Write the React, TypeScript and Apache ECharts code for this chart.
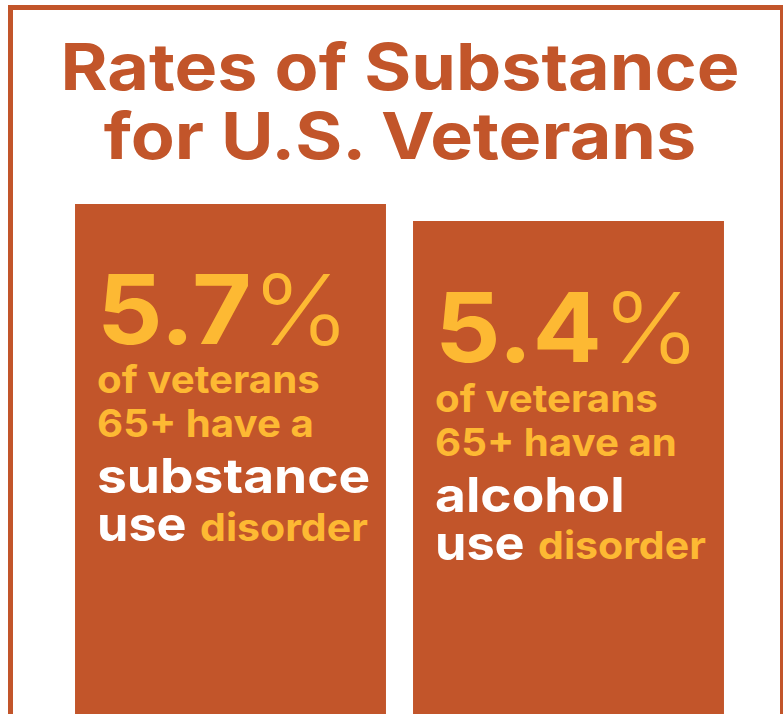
import React, { useEffect, useRef } from "react";
import * as echarts from "echarts";

// ---- data ----
const titleLines = ["Rates of Substance", "for U.S. Veterans"];
const categories = ["substance use disorder", "alcohol use disorder"];
const rates = [5.7, 5.4];
const lineOf = ["of veterans", "of veterans"];
const lineAge = ["65+ have a", "65+ have an"];
const keywords = ["substance", "alcohol"];
const lineUse = ["use", "use"];
const lineDisorder = ["disorder", "disorder"];

const ORANGE = "#C2552A";
const YELLOW = "#FDB933";
const WHITE = "#FFFFFF";
const FONT = "Inter, 'Noto Sans', sans-serif";
const CAP = 0.364; // baseline -> central offset (em)

export default function App() {
  const ref = useRef<HTMLDivElement>(null);
  useEffect(() => {
    if (!ref.current) return;
    const chart = echarts.init(ref.current, undefined, { renderer: "svg" });

    const txt = (
      x: number,
      baseline: number,
      text: string,
      size: number,
      weight: number,
      fill: string,
      sx: number,
      align: string = "left"
    ) => ({
      type: "text",
      x,
      y: baseline - CAP * size,
      scaleX: sx,
      style: {
        text,
        fill,
        fontSize: size,
        fontWeight: weight,
        fontFamily: FONT,
        verticalAlign: "middle",
        align,
        lineHeight: Math.round(size * 0.8),
      },
    });

    const option: any = {
      animation: false,
      backgroundColor: "#ffffff",
      grid: { left: 61.5, right: 45.5, top: 187, bottom: 0 },
      xAxis: { type: "category", data: categories, show: false, boundaryGap: true },
      yAxis: { type: "value", min: -3.3, max: 6, show: false },
      graphic: [
        {
          type: "rect",
          shape: { x: 10.5, y: 7.5, width: 772, height: 760 },
          style: { fill: "none", stroke: ORANGE, lineWidth: 5 },
          z: 10,
        },
        txt(400, 90, titleLines[0], 65, 700, ORANGE, 1.105, "center"),
        txt(400, 159, titleLines[1], 65, 700, ORANGE, 1.105, "center"),
      ],
      series: [
        {
          type: "custom",
          data: rates.map((v, i) => [i, v]),
          clip: false,
          renderItem: (params: any, api: any) => {
            const i = params.dataIndex;
            const top = api.coord([api.value(0), api.value(1)]);
            const bw = api.size([1, 0])[0] * 0.92;
            const cs = params.coordSys;
            const left = top[0] - bw / 2;
            const bottom = cs.y + cs.height;
            const tx = left + 22;
            const t = top[1] + i * 1.5;
            const big = {
              type: "text",
              x: tx,
              y: t + 140 - CAP * 96,
              scaleX: 1.07,
              style: {
                text: `{n|${rates[i]}}{p|%}`,
                verticalAlign: "middle",
                rich: {
                  n: { fontSize: 96, fontWeight: 700, fontFamily: FONT, fill: YELLOW, lineHeight: 76 },
                  p: { fontSize: 98, fontWeight: 300, fontFamily: FONT, fill: YELLOW, lineHeight: 76 },
                },
              },
            };
            return {
              type: "group",
              children: [
                {
                  type: "rect",
                  shape: { x: left, y: top[1], width: bw, height: bottom - top[1] },
                  style: { fill: ORANGE },
                },
                big,
                txt(tx, t + 189, lineOf[i], 38, 700, YELLOW, 1.06),
                txt(tx, t + 233, lineAge[i], 38, 700, YELLOW, 1.06),
                txt(tx, t + 289, keywords[i], 48, 700, WHITE, 1.11),
                txt(tx, t + 337, lineUse[i], 48, 700, WHITE, 1.05),
                txt(left + 125, t + 337, lineDisorder[i], 38, 700, YELLOW, 1.08),
              ],
            };
          },
        },
      ],
    };
    chart.setOption(option);
    return () => chart.dispose();
  }, []);
  return (
    <div
      ref={ref}
      style={{ position: "absolute", left: 0, top: 0, width: 783, height: 714 }}
    />
  );
}
